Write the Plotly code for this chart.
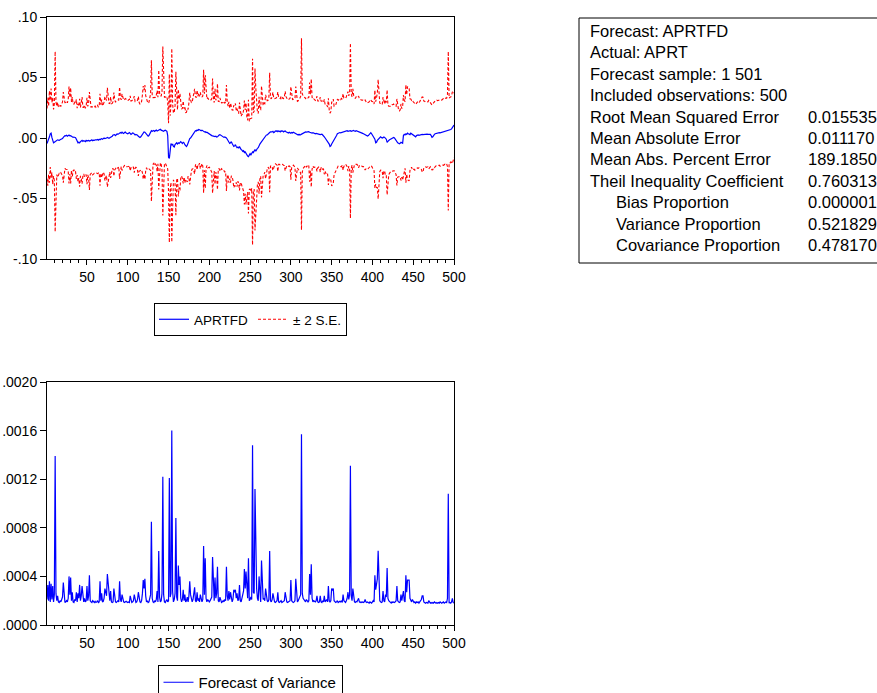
import numpy as np
import plotly.graph_objects as go

# ---------------- data ----------------
obs = list(range(1, 501))

# Forecast APRTFD, in units of 1e-4
forecast_e4 = [
    -45, -30, -20, 10, 35, 40, 5, -25, -40, -35,
    -30, -25, -20, -15, -18, -20, -15, -12, -10, -5,
    5, 15, 20, 18, 22, 15, 20, 25, 18, 20,
    15, 10, 5, 8, 5, 3, -10, -30, -40, -35,
    -40, -30, -25, -20, -28, -22, -25, -30, -20, -25,
    -22, -20, -25, -18, -20, -15, -22, -18, -20, -15,
    -18, -15, -12, -18, -10, -15, -8, -5, -10, -3,
    0, -5, 2, 0, 5, 0, -3, 2, 5, 8,
    15, 25, 30, 28, 20, 32, 35, 30, 38, 42,
    45, 40, 48, 42, 38, 45, 50, 42, 40, 35,
    40, 45, 38, 30, 35, 42, 40, 30, 25, 30,
    28, 22, 15, 10, 5, 10, 20, 35, 45, 50,
    48, 40, 30, 20, 15, 20, 35, 50, 60, 55,
    58, 62, 55, 60, 65, 58, 62, 68, 70, 72,
    65, 60, 58, 55, 62, 65, 60, 55, 20, -160,
    -168, -120, -45, -60, -50, -70, -75, -55, -45, -40,
    -50, -40, -45, -35, -30, -38, -45, -35, -40, -55,
    -65, -70, -60, -40, -20, -5, 0, 10, 20, 35,
    45, 55, 60, 58, 66, 62, 70, 68, 62, 60,
    65, 58, 55, 50, 52, 45, 48, 42, 40, 35,
    30, 25, 20, 18, 15, 10, 12, 15, 8, 10,
    20, 25, 28, 22, 18, 15, 10, 5, 8, 5,
    0, -10, -20, -35, -45, -40, -30, -45, -60, -70,
    -65, -55, -70, -80, -75, -85, -70, -85, -95, -100,
    -110, -105, -120, -115, -130, -140, -150, -154, -145, -130,
    -140, -126, -115, -120, -100, -95, -110, -90, -85, -80,
    -60, -50, -40, -30, -30, -20, -10, 0, 10, 25,
    25, 35, 40, 45, 50, 48, 50, 55, 45, 50,
    58, 55, 60, 52, 58, 55, 50, 60, 55, 58,
    50, 55, 58, 52, 48, 45, 42, 48, 45, 40,
    45, 42, 48, 44, 40, 35, 30, 28, 25, 30,
    25, 28, 32, 40, 45, 48, 52, 50, 48, 50,
    55, 52, 48, 45, 42, 40, 44, 40, 38, 35,
    38, 35, 30, 32, 30, 28, 30, 32, 25, 20,
    10, 0, -10, -15, -20, -30, -50, -70, -65, -50,
    -40, -25, -20, -10, 0, 20, 35, 40, 44, 45,
    42, 45, 48, 50, 48, 52, 55, 58, 60, 55,
    58, 62, 60, 55, 58, 60, 62, 58, 55, 60,
    58, 55, 50, 48, 45, 42, 40, 38, 35, 30,
    25, 20, 18, 16, 20, 30, 40, 44, 35, 25,
    15, 5, -10, -40, -35, -20, -10, 0, 5, 10,
    5, 0, 3, 8, 5, 0, -10, -36, -25, -20,
    -15, -10, -5, 0, 3, 5, 0, -10, -20, -35,
    -40, -44, -48, -44, -35, -40, -44, 20, 30, 25,
    35, 30, 40, 35, 30, 28, 40, 35, 25, 20,
    15, 10, 10, 20, 25, 25, 22, 25, 28, 30,
    30, 28, 30, 32, 30, 30, 32, 30, 28, 30,
    30, 20, 5, 10, 25, 30, 35, 38, 40, 40,
    42, 44, 42, 44, 45, 48, 50, 52, 55, 55,
    58, 60, 58, 62, 65, 70, 75, 85, 95, 107,
]

# Forecast of variance, in units of 1e-6
variance_e6 = [
    210, 330, 200, 360, 190, 340, 210, 320, 190, 250,
    1390, 260, 200, 240, 190, 185, 200, 190, 210, 230,
    350, 200, 185, 190, 200, 190, 220, 400, 250, 390,
    200, 270, 190, 185, 210, 200, 270, 190, 260, 220,
    330, 200, 240, 320, 200, 190, 220, 190, 200, 320,
    200, 240, 410, 200, 190, 185, 200, 190, 185, 195,
    185, 190, 200, 185, 190, 360, 200, 260, 190, 195,
    220, 300, 270, 240, 420, 330, 210, 200, 280, 190,
    185, 190, 300, 210, 190, 185, 190, 200, 190, 360,
    210, 190, 250, 200, 190, 185, 190, 195, 190, 185,
    190, 185, 240, 190, 185, 190, 200, 250, 190, 185,
    190, 210, 270, 200, 190, 185, 200, 260, 370, 300,
    380, 240, 190, 200, 185, 190, 220, 250, 850, 220,
    190, 185, 200, 190, 210, 280, 190, 610, 230, 190,
    200, 260, 1220, 250, 190, 185, 200, 210, 190, 200,
    1210, 230, 260, 1600, 280, 190, 210, 260, 880, 230,
    200, 490, 330, 400, 220, 190, 210, 290, 200, 250,
    190, 200, 230, 190, 240, 360, 250, 200, 190, 210,
    250, 310, 200, 190, 270, 200, 220, 190, 250, 200,
    190, 210, 650, 250, 550, 220, 190, 210, 200, 190,
    200, 210, 230, 560, 250, 200, 390, 220, 260, 480,
    200, 190, 230, 200, 185, 190, 200, 190, 210, 200,
    480, 240, 200, 280, 210, 270, 200, 190, 210, 290,
    270, 290, 220, 260, 200, 210, 330, 200, 190, 220,
    230, 280, 460, 300, 440, 250, 220, 550, 200, 210,
    230, 210, 1480, 270, 260, 1120, 680, 300, 220, 200,
    400, 210, 190, 530, 250, 210, 220, 200, 300, 230,
    200, 190, 210, 610, 200, 190, 210, 260, 200, 190,
    185, 190, 200, 270, 190, 185, 190, 200, 185, 190,
    190, 200, 270, 210, 190, 185, 190, 195, 200, 370,
    200, 190, 185, 190, 200, 380, 210, 190, 200, 220,
    230, 250, 1570, 260, 220, 210, 200, 190, 210, 200,
    190, 200, 420, 250, 500, 220, 190, 200, 195, 190,
    200, 240, 190, 185, 190, 240, 190, 185, 200, 190,
    240, 190, 200, 210, 190, 320, 200, 190, 200, 300,
    290, 300, 200, 190, 185, 190, 200, 185, 190, 195,
    190, 200, 185, 250, 200, 190, 185, 200, 220, 270,
    210, 250, 1310, 240, 200, 300, 210, 190, 185, 195,
    190, 200, 220, 190, 185, 190, 185, 190, 185, 190,
    210, 190, 185, 190, 185, 180, 190, 185, 180, 190,
    200, 190, 410, 290, 350, 380, 610, 250, 200, 190,
    185, 190, 280, 200, 190, 250, 230, 470, 220, 200,
    190, 185, 180, 190, 185, 190, 185, 190, 200, 320,
    200, 190, 185, 190, 250, 200, 230, 280, 200, 190,
    410, 270, 370, 370, 370, 220, 200, 190, 210, 195,
    185, 190, 180, 190, 185, 190, 180, 190, 200, 210,
    240, 240, 190, 185, 180, 185, 180, 180, 200, 185,
    180, 185, 180, 185, 180, 190, 185, 180, 185, 180,
    185, 180, 190, 185, 180, 185, 190, 180, 185, 190,
    185, 220, 1080, 180, 185, 180, 190, 220, 185, 180,
]

top_tickvals = [-0.10, -0.05, 0.0, 0.05, 0.10]
top_ticktext = ["-.10", "-.05", ".00", ".05", ".10"]
bot_tickvals = [0.0, 0.0004, 0.0008, 0.0012, 0.0016, 0.0020]
bot_ticktext = [".0000", ".0004", ".0008", ".0012", ".0016", ".0020"]

table_labels = [
    "Forecast: APRTFD", "Actual: APRT", "Forecast sample: 1 501",
    "Included observations: 500", "Root Mean Squared Error",
    "Mean Absolute Error", "Mean Abs. Percent Error",
    "Theil Inequality Coefficient", "Bias Proportion",
    "Variance Proportion", "Covariance Proportion",
]
table_values = ["", "", "", "", "0.015535", "0.011170", "189.1850",
                "0.760313", "0.000001", "0.521829", "0.478170"]
table_indent = [0, 0, 0, 0, 0, 0, 0, 0, 1, 1, 1]

# ---------------- derived series ----------------
f = np.array(forecast_e4) * 1e-4
v = np.array(variance_e6) * 1e-6
se2 = 2.0 * np.sqrt(v)
upper = f + se2
lower = f - se2

W, H = 877, 693
FONT = "Liberation Sans, Arial, sans-serif"
BLUE = "#0000FF"
RED = "#FF0000"

def px_x(p):
    return p / W

def px_y(p):
    return 1 - p / H

fig = go.Figure()
fig.add_trace(go.Scatter(x=obs, y=f, mode="lines", name="APRTFD",
                         line=dict(color=BLUE, width=1.2),
                         xaxis="x", yaxis="y", legend="legend"))
fig.add_trace(go.Scatter(x=obs, y=upper, mode="lines", name="± 2 S.E.",
                         line=dict(color=RED, width=1.1, dash="3px,2px"),
                         xaxis="x", yaxis="y", legend="legend", legendgroup="se"))
fig.add_trace(go.Scatter(x=obs, y=lower, mode="lines", name="± 2 S.E.",
                         line=dict(color=RED, width=1.1, dash="3px,2px"),
                         xaxis="x", yaxis="y", legend="legend", legendgroup="se",
                         showlegend=False))
fig.add_trace(go.Scatter(x=obs, y=v, mode="lines", name="Forecast of Variance",
                         line=dict(color=BLUE, width=1.2),
                         xaxis="x2", yaxis="y2", legend="legend2"))

xdom = [px_x(47), px_x(454)]
common_x = dict(range=[1, 500], tick0=0, dtick=50, ticks="outside", ticklen=5,
                tickcolor="black", showline=True, linecolor="black", linewidth=1,
                mirror=True, showgrid=False, zeroline=False,
                tickfont=dict(size=14, color="black", family=FONT),
                minor=dict(tick0=0, dtick=10, ticks="outside", ticklen=3,
                           tickcolor="black", showgrid=False))
common_y = dict(ticks="outside", ticklen=6, tickcolor="black", showline=True,
                linecolor="black", linewidth=1, mirror=True, showgrid=False,
                zeroline=False, tickfont=dict(size=14, color="black", family=FONT))

fig.update_layout(
    width=W, height=H,
    margin=dict(l=0, r=0, t=0, b=0, autoexpand=False),
    paper_bgcolor="white", plot_bgcolor="white",
    font=dict(family=FONT, color="black", size=14),
    xaxis=dict(domain=xdom, anchor="y", **common_x),
    yaxis=dict(domain=[px_y(259), px_y(17)], anchor="x", range=[-0.10, 0.10],
               tickvals=top_tickvals, ticktext=top_ticktext, **common_y),
    xaxis2=dict(domain=xdom, anchor="y2", **common_x),
    yaxis2=dict(domain=[px_y(625), px_y(382)], anchor="x2", range=[0, 0.0020],
                tickvals=bot_tickvals, ticktext=bot_ticktext, **common_y),
    legend=dict(orientation="h", x=px_x(250.5), xanchor="center",
                y=px_y(303), yanchor="top", bordercolor="black", borderwidth=1,
                bgcolor="white", font=dict(size=13.5, family=FONT),
                itemwidth=30, tracegroupgap=0),
    legend2=dict(orientation="h", x=px_x(250), xanchor="center",
                 y=px_y(665), yanchor="top", bordercolor="black", borderwidth=1,
                 bgcolor="white", font=dict(size=15, family=FONT),
                 itemwidth=30),
    showlegend=True,
)

# statistics table
fig.add_shape(type="rect", xref="paper", yref="paper",
              x0=px_x(579), x1=px_x(890), y0=px_y(263), y1=px_y(18),
              line=dict(color="black", width=1), fillcolor="rgba(0,0,0,0)")
for i, (lab, val, ind) in enumerate(zip(table_labels, table_values, table_indent)):
    yc = 31 + 21.4 * i
    fig.add_annotation(xref="paper", yref="paper", x=px_x(614 if ind else 588),
                       y=px_y(yc), text=lab, showarrow=False, xanchor="left",
                       yanchor="middle", font=dict(size=16.5, family=FONT, color="black"))
    if val:
        fig.add_annotation(xref="paper", yref="paper", x=px_x(806), y=px_y(yc),
                           text=val, showarrow=False, xanchor="left",
                           yanchor="middle", font=dict(size=16.5, family=FONT, color="black"))

fig.write_html("out.html", config={"displayModeBar": False},
               post_script="document.body.style.margin='0px';")
